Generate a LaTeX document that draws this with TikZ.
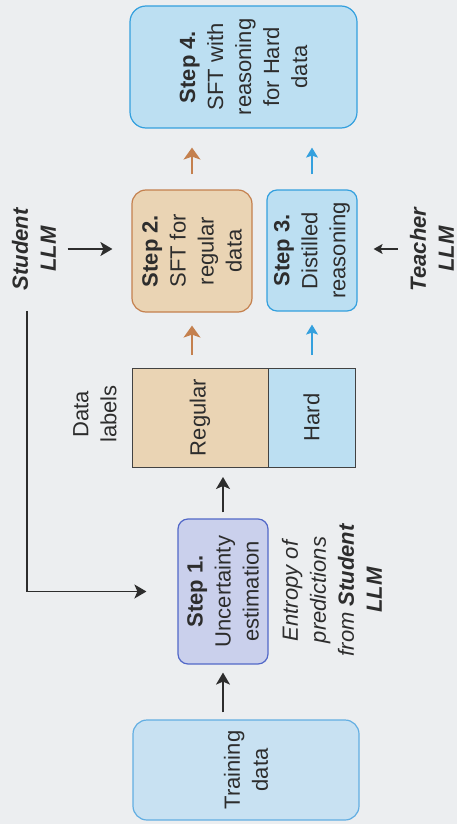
\documentclass[tikz,border=0pt]{standalone}
\usepackage{fontspec}
\setmainfont{Liberation Sans}
\usetikzlibrary{arrows.meta, positioning}
\definecolor{papercolor}{RGB}{236,238,240}
\definecolor{inkcolor}{RGB}{45,45,45}
\definecolor{hardfill}{RGB}{188,223,242}
\definecolor{hardline}{RGB}{52,160,222}
\definecolor{regfill}{RGB}{234,212,180}
\definecolor{regline}{RGB}{196,128,78}
\definecolor{estfill}{RGB}{202,208,236}
\definecolor{estline}{RGB}{82,104,200}
\definecolor{trainfill}{RGB}{200,225,242}
\definecolor{trainline}{RGB}{98,174,226}

\begin{document}
\begin{tikzpicture}[x=1pt, y=-1pt]
  \tikzset{
    every node/.style={
      font=\fontsize{22}{28}\selectfont,
      text=inkcolor,
      align=center,
      rotate=90
    },
    stepbox/.style={
      draw,
      rounded corners=14pt,
      line width=1.2pt,
      inner sep=2pt
    },
    labelbar/.style={
      draw=inkcolor!90,
      line width=1pt,
      inner sep=2pt,
      outer sep=0pt,
      minimum width=99pt
    },
    darkarrow/.style={
      -{Stealth[length=12pt, width=14pt, inset=3pt]},
      line width=1.5pt,
      draw=inkcolor
    },
    regarrow/.style={
      -{Stealth[length=12pt, width=17pt, inset=3pt]},
      line width=1.6pt,
      draw=regline
    },
    hardarrow/.style={
      -{Stealth[length=10pt, width=12pt, inset=2pt]},
      line width=1.3pt,
      draw=hardline
    }
  }

  % paper
  \fill[papercolor] (0,0) rectangle (457,824);

  % boxes
  \node[stepbox, draw=trainline, fill=trainfill, minimum width=100pt, minimum height=226pt]
    (train) at (246,770) {Training\\data};
  \node[stepbox, draw=estline, fill=estfill, rounded corners=10pt, minimum width=145pt, minimum height=90pt]
    (step1) at (223,591.5) {\textbf{Step 1.}\\Uncertainty\\estimation};
  \node[labelbar, fill=regfill, minimum height=136pt] (regular) at (200,417.5) {Regular};
  \node[labelbar, fill=hardfill, minimum height=87pt] (hard) at (311.5,417.5) {Hard};
  \node[stepbox, draw=regline, fill=regfill, minimum width=122pt, minimum height=120pt]
    (step2) at (192,251) {\textbf{Step 2.}\\SFT for\\regular\\data};
  \node[stepbox, draw=hardline, fill=hardfill, rounded corners=10pt, minimum width=121pt, minimum height=90pt]
    (step3) at (312,250.5) {\textbf{Step 3.}\\Distilled\\reasoning};
  \node[stepbox, draw=hardline, fill=hardfill, rounded corners=16pt, minimum width=122pt, minimum height=227pt]
    (step4) at (243.5,67) {\textbf{Step 4.}\\SFT with\\reasoning\\for Hard\\data};

  % texts
  \node (student) at (34,249) {\textbf{\textit{Student}}\\\textbf{\textit{LLM}}};
  \node (teacher) at (432,249) {\textbf{\textit{Teacher}}\\\textbf{\textit{LLM}}};
  \node (datalabels) at (95,414) {Data\\labels};
  \node (entropy) at (332,590)
    {\textit{Entropy of}\\\textit{predictions}\\\textit{from \textbf{Student}}\\\textbf{\textit{LLM}}};

  % connectors
  \draw[darkarrow, shorten <=7pt, shorten >=8pt] (train.east -| step1.west) -- (step1.west);
  \draw[darkarrow, shorten <=6pt, shorten >=10pt] (step1.east) -- (step1.east |- regular.west);
  \draw[darkarrow, shorten <=17pt, shorten >=31pt] ([xshift=-7pt]student.west) |- (step1.north);
  \draw[darkarrow, shorten <=8pt, shorten >=19pt] (student.south) -- (student.south -| step2.north);
  \draw[darkarrow, line width=1.2pt, -{Stealth[length=9pt, width=10pt, inset=2pt]}, shorten <=9pt, shorten >=16pt]
    (teacher.north) -- (teacher.north -| step3.south);
  \draw[regarrow, shorten <=13pt, shorten >=13pt] (regular.east -| step2.west) -- (step2.west);
  \draw[hardarrow, shorten <=13pt, shorten >=13pt] (hard.east -| step3.west) -- (step3.west);
  \draw[regarrow, shorten <=15pt, shorten >=19pt] (step2.east) -- (step2.east |- step4.west);
  \draw[hardarrow, shorten <=15pt, shorten >=19pt] (step3.east) -- (step3.east |- step4.west);
\end{tikzpicture}
\end{document}
